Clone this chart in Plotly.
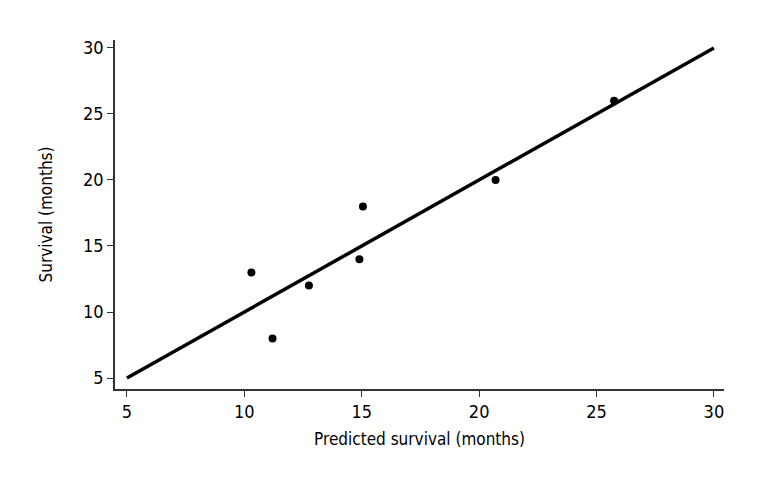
import plotly.graph_objects as go

predicted = [10.3, 11.2, 12.75, 14.9, 15.05, 20.7, 25.75]
survival = [13, 8, 12, 14, 18, 20, 26]
line_x = [5, 30]
line_y = [5, 30]
ticks = [5, 10, 15, 20, 25, 30]

FONT = "DejaVu Sans Condensed, sans-serif"

fig = go.Figure()
fig.add_trace(go.Scatter(x=line_x, y=line_y, mode="lines",
                         line=dict(color="black", width=3.5), showlegend=False))
fig.add_trace(go.Scatter(x=predicted, y=survival, mode="markers",
                         marker=dict(color="black", size=8), showlegend=False))

axis_common = dict(showline=True, linecolor="#333", linewidth=1.5, ticks="outside",
                   ticklen=6, tickcolor="#333", tickvals=ticks, showgrid=False,
                   zeroline=False, tickfont=dict(size=18, color="black", family=FONT))
fig.update_xaxes(range=[4.49, 30.43], title=dict(text="Predicted survival (months)",
                 font=dict(size=17, color="black", family=FONT), standoff=12), **axis_common)
fig.update_yaxes(range=[4.17, 30.6], title=dict(text="Survival (months)",
                 font=dict(size=17, color="black", family=FONT), standoff=26), **axis_common)
# page body has an 8px margin, so the figure is 8px smaller and margins shifted
fig.update_layout(width=760, height=472, margin=dict(l=107, r=44, t=32, b=91),
                  plot_bgcolor="white", paper_bgcolor="white", font=dict(family=FONT))
fig.write_html("out.html")
